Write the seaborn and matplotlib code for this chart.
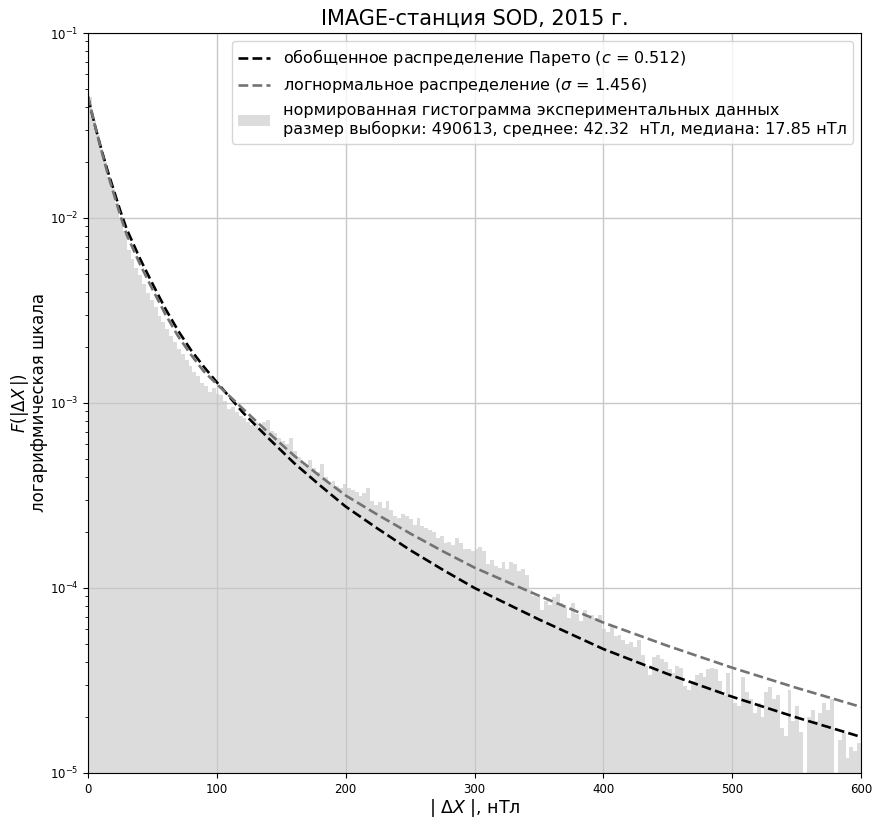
import numpy as np
import pandas as pd
import matplotlib
matplotlib.use('Agg')
import matplotlib.pyplot as plt
from matplotlib.patches import Patch
import seaborn as sns

# histogram: 3 nT bins from 0 to 600, normalised heights
bin_width = 3
hist_values = [
    4.5e-2, 3.4e-2, 2.8e-2, 2.35e-2, 2.0e-2, 1.66e-2, 1.43e-2, 1.2e-2, 1.0e-2, 8.5e-3,
    6.7e-3, 6.0e-3, 5.4e-3, 4.9e-3, 4.4e-3, 3.95e-3, 3.6e-3, 3.3e-3, 2.95e-3, 2.75e-3,
    2.5e-3, 2.3e-3, 2.13e-3, 1.95e-3, 1.85e-3, 1.7e-3, 1.58e-3, 1.47e-3, 1.4e-3, 1.29e-3,
    1.23e-3, 1.15e-3, 1.2e-3, 1.12e-3, 1.10e-3, 1.02e-3, 9.3e-4, 9.5e-4, 8.9e-4, 8.5e-4,
    8.3e-4, 7.9e-4, 7.6e-4, 7.9e-4, 7.2e-4, 7.9e-4, 8.1e-4, 7.1e-4, 6.9e-4, 6.45e-4,
    6.2e-4, 6.0e-4, 6.45e-4, 5.5e-4, 5.1e-4, 4.8e-4, 4.55e-4, 4.9e-4, 4.45e-4, 4.25e-4,
    4.7e-4, 4.0e-4, 3.7e-4, 3.8e-4, 3.55e-4, 3.45e-4, 3.65e-4, 3.45e-4, 3.4e-4, 3.3e-4,
    3.15e-4, 3.25e-4, 3.45e-4, 2.95e-4, 2.8e-4, 2.9e-4, 2.7e-4, 2.95e-4, 2.65e-4, 2.45e-4,
    2.4e-4, 2.5e-4, 2.45e-4, 2.35e-4, 2.2e-4, 2.4e-4, 2.15e-4, 2.1e-4, 2.05e-4, 2.0e-4,
    1.86e-4, 1.9e-4, 1.74e-4, 1.78e-4, 1.7e-4, 1.86e-4, 1.74e-4, 1.62e-4, 1.62e-4, 1.58e-4,
    1.62e-4, 1.66e-4, 1.58e-4, 1.35e-4, 1.41e-4, 1.32e-4, 1.29e-4, 1.38e-4, 1.26e-4, 1.38e-4,
    1.35e-4, 1.23e-4, 1.26e-4, 1.17e-4, 9.8e-5, 9.1e-5, 8.9e-5, 7.6e-5, 8.5e-5, 8.1e-5,
    8.9e-5, 9.3e-5, 8.3e-5, 7.9e-5, 6.9e-5, 8.3e-5, 7.2e-5, 6.6e-5, 7.6e-5, 6.9e-5,
    7.1e-5, 6.9e-5, 7.1e-5, 6.0e-5, 5.75e-5, 6.2e-5, 5.5e-5, 5.6e-5, 5.25e-5, 5.0e-5,
    5.1e-5, 4.8e-5, 5.25e-5, 4.35e-5, 3.8e-5, 3.4e-5, 4.25e-5, 4.35e-5, 4.15e-5, 4.0e-5,
    3.65e-5, 3.45e-5, 3.8e-5, 3.7e-5, 2.95e-5, 2.8e-5, 3.15e-5, 3.4e-5, 3.45e-5, 3.3e-5,
    3.65e-5, 3.7e-5, 3.65e-5, 3.15e-5, 2.65e-5, 3.45e-5, 2.5e-5, 2.4e-5, 2.3e-5, 3.3e-5,
    2.75e-5, 2.5e-5, 2.1e-5, 2.4e-5, 2.0e-5, 2.75e-5, 2.9e-5, 2.5e-5, 2.65e-5, 1.74e-5,
    1.58e-5, 2.8e-5, 1.9e-5, 2.3e-5, 1.66e-5, 8.9e-6, 2.0e-5, 2.2e-5, 1.9e-5, 2.1e-5,
    2.4e-5, 2.2e-5, 2.5e-5, 8.9e-6, 1.51e-5, 1.66e-5, 1.2e-5, 1.38e-5, 1.32e-5, 1.45e-5,
]

# fitted curves, log10 of density at the sample points
curve_x = [0, 5, 10, 15, 20, 25, 30, 40, 50, 60, 70, 80, 90, 100, 120, 140, 160, 180,
           200, 225, 250, 275, 300, 350, 400, 450, 500, 550, 600]
pareto_log = [-1.35, -1.49, -1.62, -1.74, -1.85, -1.96, -2.06, -2.215, -2.355, -2.49,
              -2.61, -2.715, -2.805, -2.888, -3.05, -3.19, -3.325, -3.445, -3.56, -3.68,
              -3.795, -3.90, -4.00, -4.17, -4.33, -4.465, -4.588, -4.70, -4.805]
lognorm_log = [-1.34, -1.49, -1.625, -1.755, -1.87, -1.985, -2.09, -2.245, -2.385, -2.52,
               -2.64, -2.74, -2.83, -2.898, -3.03, -3.16, -3.285, -3.395, -3.50, -3.605,
               -3.705, -3.80, -3.89, -4.042, -4.187, -4.313, -4.431, -4.54, -4.643]

x_ticks = [0, 100, 200, 300, 400, 500, 600]

title = 'IMAGE-станция SOD, 2015 г.'
label_pareto = r'обобщенное распределение Парето ($c$ = 0.512)'
label_lognorm = r'логнормальное распределение ($\sigma$ = 1.456)'
label_hist = ('нормированная гистограмма экспериментальных данных\n'
              'размер выборки: 490613, среднее: 42.32  нТл, медиана: 17.85 нТл')

hist_color = '#dcdcdc'
gray_line = '#737373'

centers = np.arange(len(hist_values)) * bin_width + bin_width / 2
hist_df = pd.DataFrame({'x': centers, 'w': hist_values})

fig = plt.figure(figsize=(8.75, 8.19), dpi=100)
ax = fig.add_axes([0.1006, 0.0562, 0.8834, 0.9035])
ax.set_yscale('log')

sns.histplot(data=hist_df, x='x', weights='w', binwidth=bin_width, binrange=(0, 600),
             ax=ax, color=hist_color, alpha=1, linewidth=0, stat='count')
sns.lineplot(x=curve_x, y=10 ** np.array(pareto_log), ax=ax,
             color='black', linestyle='--', linewidth=1.9)
sns.lineplot(x=curve_x, y=10 ** np.array(lognorm_log), ax=ax,
             color=gray_line, linestyle='--', linewidth=1.9)

ax.set_xlim(0, 600)
ax.set_ylim(1e-5, 1e-1)
ax.set_xticks(x_ticks)
ax.tick_params(labelsize=8.5)
ax.grid(True, which='major', color='#c8c8c8', linewidth=1)

ax.set_title(title, fontsize=15)
ax.set_xlabel(r'$|\ \Delta X\ |$, нТл', fontsize=12.5, labelpad=1)
ax.set_ylabel('$F(|\\Delta X\\,|)$\nлогарифмическая шкала', fontsize=12,
              linespacing=0.95, labelpad=1)

handles = [ax.lines[0], ax.lines[1], Patch(facecolor=hist_color, edgecolor='none')]
ax.legend(handles, [label_pareto, label_lognorm, label_hist],
          loc='upper right', fontsize=11.5)

fig.savefig('out.png', dpi=100)
